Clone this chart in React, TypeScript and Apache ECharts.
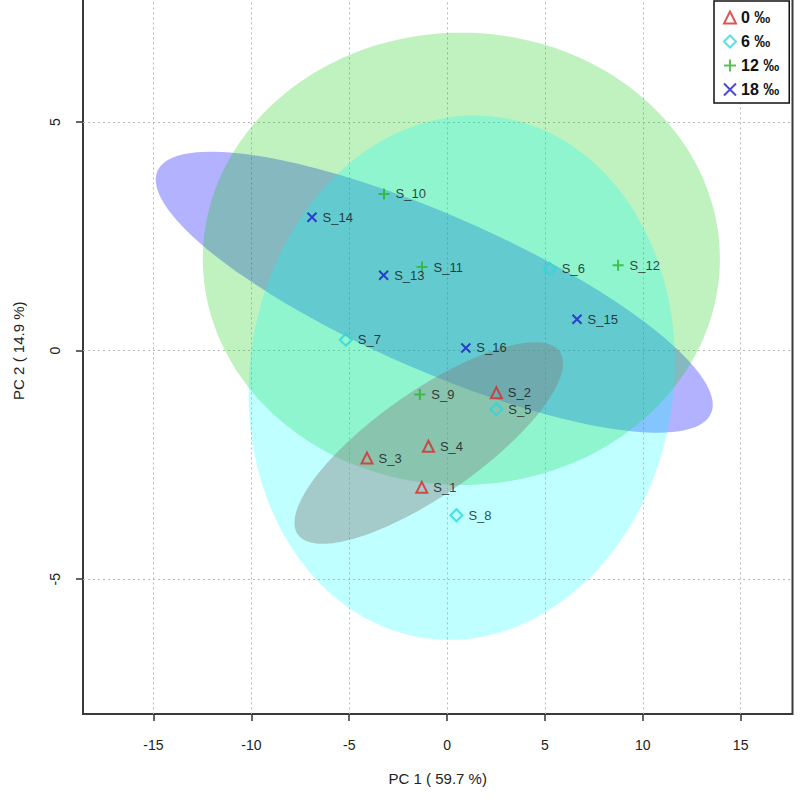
import React, { useEffect, useRef } from 'react';
import * as echarts from 'echarts';

// ---- data ----
const sampleNames = ['S_1', 'S_2', 'S_3', 'S_4', 'S_5', 'S_6', 'S_7', 'S_8', 'S_9', 'S_10', 'S_11', 'S_12', 'S_13', 'S_14', 'S_15', 'S_16'];
const pc1 = [-1.29, 2.52, -4.09, -0.95, 2.52, 5.25, -5.17, 0.48, -1.39, -3.22, -1.28, 8.74, -3.24, -6.9, 6.64, 0.96];
const pc2 = [-2.99, -0.92, -2.35, -2.09, -1.28, 1.79, 0.24, -3.6, -0.96, 3.43, 1.83, 1.87, 1.65, 2.92, 0.69, 0.06];
const sampleGroup = [0, 0, 0, 0, 1, 1, 1, 1, 2, 2, 2, 2, 3, 3, 3, 3];

const groupNames = ['0 ‰', '6 ‰', '12 ‰', '18 ‰'];
const groupColors = ['#D92B2B', '#2ED6DC', '#2BB52B', '#1C1CCB'];
const groupSymbols = ['triangle', 'diamond', 'path://M5,0L5,10M0,5L10,5', 'path://M0,0L10,10M10,0L0,10'];
const groupSymbolSizes = [11, 12, 11, 9];

// confidence ellipses: centre and two conjugate half-axis vectors (data units)
const ellipseCenterX = [-0.935, 0.75, 0.73, -0.654];
const ellipseCenterY = [-2.02, -0.59, 2.01, 1.28];
const ellipseAxisA = [[6.69, 2.0], [1.87, 5.7], [13.21, 0], [14.23, -2.462]];
const ellipseAxisB = [[1.52, -0.93], [10.73, -0.65], [0, 4.95], [0, 1.841]];
const ellipseFills = ['rgba(128,128,128,0.42)', 'rgba(0,255,255,0.25)', 'rgba(0,204,0,0.25)', 'rgba(0,0,255,0.3)'];
const ellipseDrawOrder = [3, 2, 1, 0];

const xTicks = [-15, -10, -5, 0, 5, 10, 15];
const yTicks = [-5, 0, 5];
const xRange = [-18.6, 17.65];
const yRange = [-7.95, 7.95];

const FONT = "'Liberation Sans', Arial, sans-serif";
const ELLIPSE_STEPS = 160;
const SHIFT = 20; // the plot's top edge lies above the page; the chart div starts above the page

function ellipseSeries(g: number) {
  return {
    type: 'custom',
    name: 'ellipse' + g,
    coordinateSystem: 'cartesian2d',
    silent: true,
    z: 1,
    data: [[ellipseCenterX[g], ellipseCenterY[g]]],
    renderItem: (_params: any, api: any) => {
      const pts: number[][] = [];
      const a = ellipseAxisA[g];
      const b = ellipseAxisB[g];
      for (let i = 0; i < ELLIPSE_STEPS; i++) {
        const t = (2 * Math.PI * i) / ELLIPSE_STEPS;
        const c = Math.cos(t);
        const s = Math.sin(t);
        pts.push(api.coord([ellipseCenterX[g] + a[0] * c + b[0] * s, ellipseCenterY[g] + a[1] * c + b[1] * s]));
      }
      return { type: 'polygon', shape: { points: pts }, style: { fill: ellipseFills[g], stroke: null } };
    },
  };
}

function scatterSeries(g: number) {
  const data: any[] = [];
  for (let i = 0; i < sampleNames.length; i++) {
    if (sampleGroup[i] === g) data.push({ name: sampleNames[i], value: [pc1[i], pc2[i]] });
  }
  return {
    type: 'scatter',
    name: groupNames[g],
    z: 3,
    symbol: groupSymbols[g],
    symbolSize: groupSymbolSizes[g],
    itemStyle: { color: 'rgba(0,0,0,0)', borderColor: groupColors[g], borderWidth: 2 },
    label: {
      show: true,
      position: 'right',
      distance: 5,
      formatter: '{b}',
      color: '#111',
      fontSize: 13,
      fontFamily: FONT,
    },
    emphasis: { disabled: true },
    data,
  };
}

export default function App() {
  const ref = useRef<HTMLDivElement>(null);
  useEffect(() => {
    if (!ref.current) return;
    const chart = echarts.init(ref.current, undefined, { renderer: 'svg' });
    const axisCommon = {
      type: 'value',
      nameLocation: 'middle',
      nameTextStyle: { fontSize: 15, color: '#222', fontFamily: FONT },
      axisLine: { show: false, onZero: false },
      splitLine: { show: true, lineStyle: { color: '#b8b8b8', width: 1, type: [2, 3] } },
    };
    chart.setOption({
      animation: false,
      backgroundColor: '#fff',
      grid: {
        left: 83,
        right: 7.5,
        top: SHIFT - 12.6,
        bottom: 86,
        show: true,
        borderColor: '#3a3a3a',
        borderWidth: 2,
        backgroundColor: 'rgba(0,0,0,0)',
      },
      xAxis: {
        ...axisCommon,
        min: xRange[0],
        max: xRange[1],
        name: 'PC 1 ( 59.7 %)',
        nameGap: 57,
        axisTick: { show: true, length: 7, customValues: xTicks, lineStyle: { color: '#333', width: 1.5 } },
        axisLabel: { customValues: xTicks, margin: 24, fontSize: 14, color: '#222', fontFamily: FONT },
      },
      yAxis: {
        ...axisCommon,
        min: yRange[0],
        max: yRange[1],
        name: 'PC 2 ( 14.9 %)',
        nameGap: 57,
        axisTick: { show: true, length: 7, customValues: yTicks, lineStyle: { color: '#333', width: 1.5 } },
        axisLabel: { customValues: yTicks, margin: 21, rotate: 90, fontSize: 14, color: '#222', fontFamily: FONT },
      },
      legend: {
        orient: 'vertical',
        left: 714,
        top: SHIFT + 1,
        padding: [8, 10, 5, 9],
        itemWidth: 12,
        itemHeight: 12,
        itemGap: 7,
        itemTextGap: 10,
        backgroundColor: '#fff',
        borderColor: '#111',
        borderWidth: 1.5,
        selectedMode: false,
        textStyle: { fontSize: 16, fontWeight: 'bold', color: '#111', fontFamily: FONT, lineHeight: 17 },
        data: groupNames.map((n, g) => ({
          name: n,
          icon: groupSymbols[g],
          itemStyle: { color: 'rgba(0,0,0,0)', borderColor: groupColors[g], borderWidth: 2 },
        })),
      },
      series: [...ellipseDrawOrder.map((g) => ellipseSeries(g)), ...[0, 1, 2, 3].map((g) => scatterSeries(g))],
    });
    return () => chart.dispose();
  }, []);
  return (
    <div
      ref={ref}
      style={{ position: 'fixed', left: 0, top: -SHIFT, width: 800, height: 800 + SHIFT, background: '#fff' }}
    />
  );
}
